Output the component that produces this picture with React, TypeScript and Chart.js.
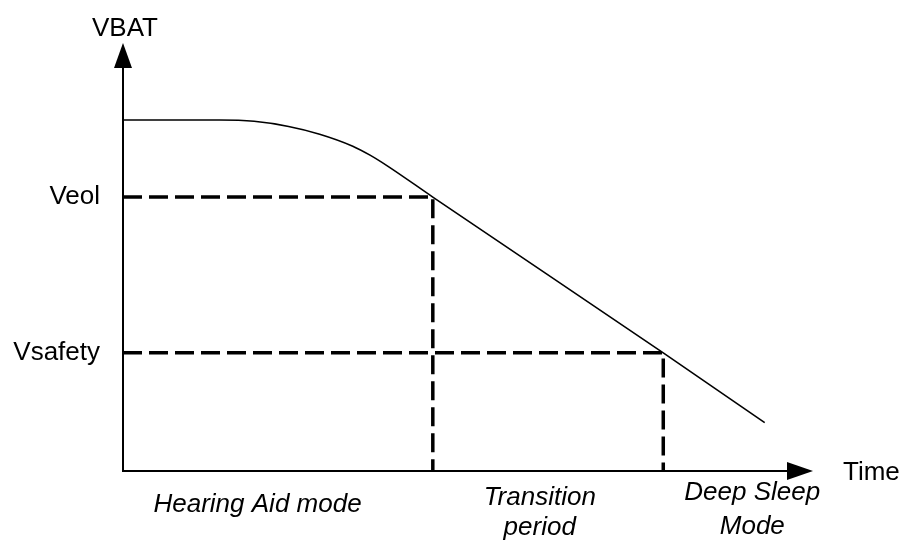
import { useEffect, useRef } from "react";
import { Chart, registerables } from "chart.js";

Chart.register(...registerables);

// ---- data (time units / voltage units) ----
const timeValues = [0, 14, 19, 24, 28.5, 33.3, 35.8, 38.3, 44.9, 78.3, 93];
const vbatValues = [82, 82, 81.7, 80.5, 78.7, 75.9, 73.8, 71.3, 64, 27.6, 11.3];
const thresholdLabels = ["Veol", "Vsafety"];
const thresholdLevels = [64, 27.6];
const thresholdTimes = [44.9, 78.3];
const phaseLabels = [["Hearing Aid mode"], ["Transition", "period"], ["Deep Sleep", "Mode"]];
const phaseCenters = [19.5, 60.4, 91.2];
const yAxisTitle = "VBAT";
const xAxisTitle = "Time";
const X_MAX = 100;
const Y_MAX = 100;

const FONT = '"Liberation Sans", Arial, Helvetica, sans-serif';

const axesPlugin = {
  id: "axesArrows",
  afterDatasetsDraw(chart: any) {
    const { ctx, scales } = chart;
    const x0 = scales.x.getPixelForValue(0);
    const y0 = scales.y.getPixelForValue(0);
    const xTip = scales.x.getPixelForValue(X_MAX);
    const yTip = scales.y.getPixelForValue(Y_MAX);
    const headLen = 25;
    const headHalf = 9;
    ctx.save();
    ctx.strokeStyle = "#000";
    ctx.fillStyle = "#000";
    ctx.lineWidth = 2;
    ctx.lineCap = "butt";
    // y axis
    ctx.beginPath();
    ctx.moveTo(x0, y0 + 1);
    ctx.lineTo(x0, yTip + headLen);
    ctx.stroke();
    ctx.beginPath();
    ctx.moveTo(x0, yTip);
    ctx.lineTo(x0 - headHalf, yTip + headLen);
    ctx.lineTo(x0 + headHalf, yTip + headLen);
    ctx.closePath();
    ctx.fill();
    // x axis
    ctx.beginPath();
    ctx.moveTo(x0 - 1, y0);
    ctx.lineTo(xTip - headLen, y0);
    ctx.stroke();
    ctx.beginPath();
    ctx.moveTo(xTip, y0);
    ctx.lineTo(xTip - headLen - 1, y0 - headHalf);
    ctx.lineTo(xTip - headLen - 1, y0 + headHalf);
    ctx.closePath();
    ctx.fill();
    // axis titles
    ctx.font = `26px ${FONT}`;
    ctx.textBaseline = "alphabetic";
    ctx.textAlign = "center";
    ctx.fillText(yAxisTitle, x0 + 2, 36);
    ctx.textAlign = "left";
    ctx.fillText(xAxisTitle, xTip + 30, y0 + 9);
    // phase labels
    const firstBase = [41, 34, 29];
    const lineGap = [30, 30, 34];
    ctx.font = `italic 26px ${FONT}`;
    ctx.textAlign = "center";
    phaseLabels.forEach((lines, i) => {
      const cx = scales.x.getPixelForValue(phaseCenters[i]);
      lines.forEach((t, j) => {
        ctx.fillText(t, cx, y0 + firstBase[i] + j * lineGap[i]);
      });
    });
    ctx.restore();
  },
};

export default function App() {
  const canvasRef = useRef<HTMLCanvasElement | null>(null);

  useEffect(() => {
    if (!canvasRef.current) return;
    const curve = timeValues.map((t, i) => ({ x: t, y: vbatValues[i] }));
    const thresholdSets = thresholdLevels.map((lvl, i) => ({
      label: thresholdLabels[i],
      data: [
        { x: 0, y: lvl },
        { x: thresholdTimes[i], y: lvl },
        { x: thresholdTimes[i], y: 0 },
      ],
      borderColor: "#000",
      borderWidth: 3.5,
      borderDash: [19, 7],
      borderCapStyle: "butt" as const,
      pointRadius: 0,
      tension: 0,
      fill: false,
    }));

    const chart = new Chart(canvasRef.current, {
      type: "line",
      data: {
        datasets: [
          {
            label: yAxisTitle,
            data: curve,
            borderColor: "#000",
            borderWidth: 1.6,
            pointRadius: 0,
            cubicInterpolationMode: "monotone",
            fill: false,
          },
          ...thresholdSets,
        ],
      },
      options: {
        animation: false,
        responsive: false,
        events: [],
        layout: { padding: { top: 43, right: 91, left: 0, bottom: 0 } },
        plugins: {
          legend: { display: false },
          tooltip: { enabled: false },
        },
        scales: {
          x: {
            type: "linear",
            min: 0,
            max: X_MAX,
            grid: { display: false, drawTicks: false },
            border: { display: false },
            ticks: { display: false },
            afterFit: (s: any) => {
              s.height = 71;
            },
          },
          y: {
            type: "linear",
            min: 0,
            max: Y_MAX,
            grid: { display: false, drawTicks: false },
            border: { display: false },
            afterBuildTicks: (s: any) => {
              s.ticks = thresholdLevels.map((v) => ({ value: v }));
            },
            ticks: {
              autoSkip: false,
              padding: 23,
              color: "#000",
              font: { family: FONT, size: 26 },
              callback: (_v: any, i: number) => thresholdLabels[i],
            },
            afterFit: (s: any) => {
              s.width = 123;
            },
          },
        },
      },
      plugins: [axesPlugin],
    });
    return () => chart.destroy();
  }, []);

  return (
    <div style={{ position: "fixed", left: 0, top: 0, width: 904, height: 542, background: "#fff" }}>
      <canvas ref={canvasRef} width={904} height={542} style={{ display: "block" }} />
    </div>
  );
}
